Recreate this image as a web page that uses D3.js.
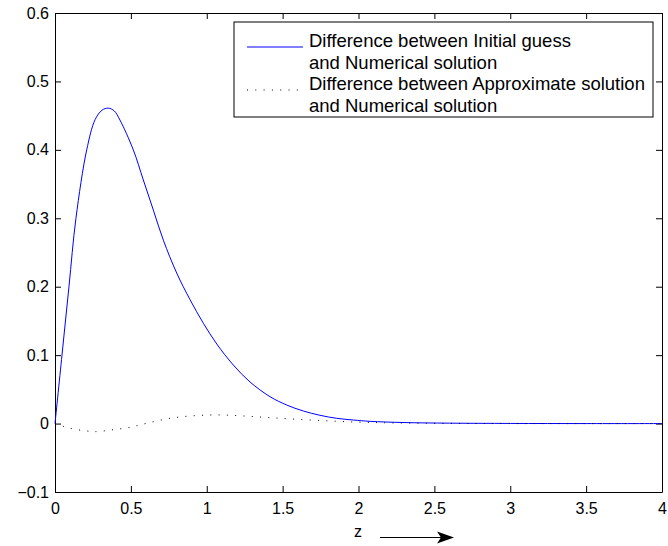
<!DOCTYPE html>
<html>
<head>
<meta charset="utf-8">
<script src="https://cdn.jsdelivr.net/npm/d3@7"></script>
<style>
  body { margin: 0; background: #fff; }
  text { font-family: "Liberation Sans", Arial, sans-serif; }
</style>
</head>
<body>
<div id="chart"></div>
<script>
// Data
const initialGuessDiff = [
  [0, 0], [0.046, 0.1], [0.092, 0.2], [0.138, 0.3], [0.209, 0.4], [0.264, 0.444],
  [0.31, 0.458], [0.351, 0.461], [0.39, 0.457], [0.428, 0.4436], [0.516, 0.4],
  [0.582, 0.356], [0.648, 0.312], [0.714, 0.268], [0.802, 0.22], [0.89, 0.181],
  [0.978, 0.1465], [1.066, 0.1163], [1.175, 0.0856], [1.285, 0.0608], [1.417, 0.0393],
  [1.527, 0.0271], [1.636, 0.0184], [1.746, 0.0121], [1.856, 0.0077], [1.966, 0.0052],
  [2.076, 0.0033], [2.3, 0.0015], [2.6, 0.0006], [3, 0.0002], [3.5, 0], [4, 0]
];
const approxDiff = [
  [0, 0], [0.099, -0.0069], [0.209, -0.0108], [0.264, -0.0118], [0.373, -0.0093],
  [0.494, -0.0054], [0.604, 0.0004], [0.758, 0.0077], [0.923, 0.0116], [1.087, 0.0126],
  [1.252, 0.011], [1.417, 0.0086], [1.593, 0.0063], [1.812, 0.0038], [2.032, 0.0019],
  [2.25, 0.0009], [2.6, 0.0002], [3, 0], [4, 0]
];
const xTicks = [0, 0.5, 1, 1.5, 2, 2.5, 3, 3.5, 4];
const yTicks = [-0.1, 0, 0.1, 0.2, 0.3, 0.4, 0.5, 0.6];
const legendLabels = [
  ["Difference between Initial guess", "and Numerical solution"],
  ["Difference between Approximate solution", "and Numerical solution"]
];

const svgWidth = 668, svgHeight = 546;
const margin = {top: 13, right: 6, bottom: 54, left: 55};
const width = svgWidth - margin.left - margin.right;
const height = svgHeight - margin.top - margin.bottom;

const svg = d3.select('#chart').append('svg')
  .attr('width', svgWidth)
  .attr('height', svgHeight);

const plot = svg.append('g')
  .attr('transform', 'translate(' + margin.left + ',' + margin.top + ')');

const xScale = d3.scaleLinear().domain([0, 4]).range([0, width]);
const yScale = d3.scaleLinear().domain([-0.1, 0.6]).range([height, 0]);

const fmt = d => d < 0 ? '\u2212' + Math.abs(d) : String(d);

// Axes with inward ticks, MATLAB box style
plot.append('g')
  .attr('transform', 'translate(0,' + height + ')')
  .call(d3.axisBottom(xScale).tickValues(xTicks).tickSizeInner(-6).tickSizeOuter(0)
    .tickPadding(11).tickFormat(fmt));
plot.append('g')
  .call(d3.axisLeft(yScale).tickValues(yTicks).tickSizeInner(-6).tickSizeOuter(0)
    .tickPadding(6).tickFormat(fmt));
plot.append('g')
  .call(d3.axisTop(xScale).tickValues(xTicks).tickSizeInner(-6).tickSizeOuter(0).tickFormat(''));
plot.append('g')
  .attr('transform', 'translate(' + width + ',0)')
  .call(d3.axisRight(yScale).tickValues(yTicks).tickSizeInner(-6).tickSizeOuter(0).tickFormat(''));

plot.selectAll('.domain').attr('stroke', '#000');
plot.selectAll('.tick line').attr('stroke', '#000');
plot.selectAll('.tick text').style('font-size', '16px').attr('fill', '#000');

// Lines
const line = d3.line()
  .x(d => xScale(d[0]))
  .y(d => yScale(d[1]))
  .curve(d3.curveCatmullRom.alpha(0.5));

plot.append('path')
  .attr('d', line(initialGuessDiff))
  .attr('fill', 'none')
  .attr('stroke', '#0000ff')
  .attr('stroke-width', 1);

plot.append('path')
  .attr('d', line(approxDiff))
  .attr('fill', 'none')
  .attr('stroke', '#000')
  .attr('stroke-width', 1)
  .attr('stroke-dasharray', '1,7.3');

// Legend
const legend = svg.append('g').attr('transform', 'translate(234,22)');
legend.append('rect')
  .attr('width', 419).attr('height', 95)
  .attr('fill', '#fff').attr('stroke', '#000');

const legendStyles = [
  {stroke: '#0000ff', dash: null, y: 25},
  {stroke: '#000', dash: '1,7.3', y: 68}
];
legendLabels.forEach((lines, i) => {
  const st = legendStyles[i];
  legend.append('line')
    .attr('x1', 13).attr('x2', 69)
    .attr('y1', st.y).attr('y2', st.y)
    .attr('stroke', st.stroke)
    .attr('stroke-dasharray', st.dash);
  lines.forEach((t, j) => {
    legend.append('text')
      .attr('x', 75)
      .attr('y', st.y + j * 21.5)
      .style('font-size', '18.5px')
      .text(t);
  });
});

// x label with arrow
svg.append('text')
  .attr('x', 358).attr('y', 537)
  .attr('text-anchor', 'middle')
  .style('font-size', '16px')
  .text('z');

svg.append('line')
  .attr('x1', 380).attr('x2', 442)
  .attr('y1', 537.5).attr('y2', 537.5)
  .attr('stroke', '#000');
svg.append('path')
  .attr('d', 'M454,537.5 L437,531.5 L441,537.5 L437,543.5 Z')
  .attr('fill', '#000');
</script>
</body>
</html>
